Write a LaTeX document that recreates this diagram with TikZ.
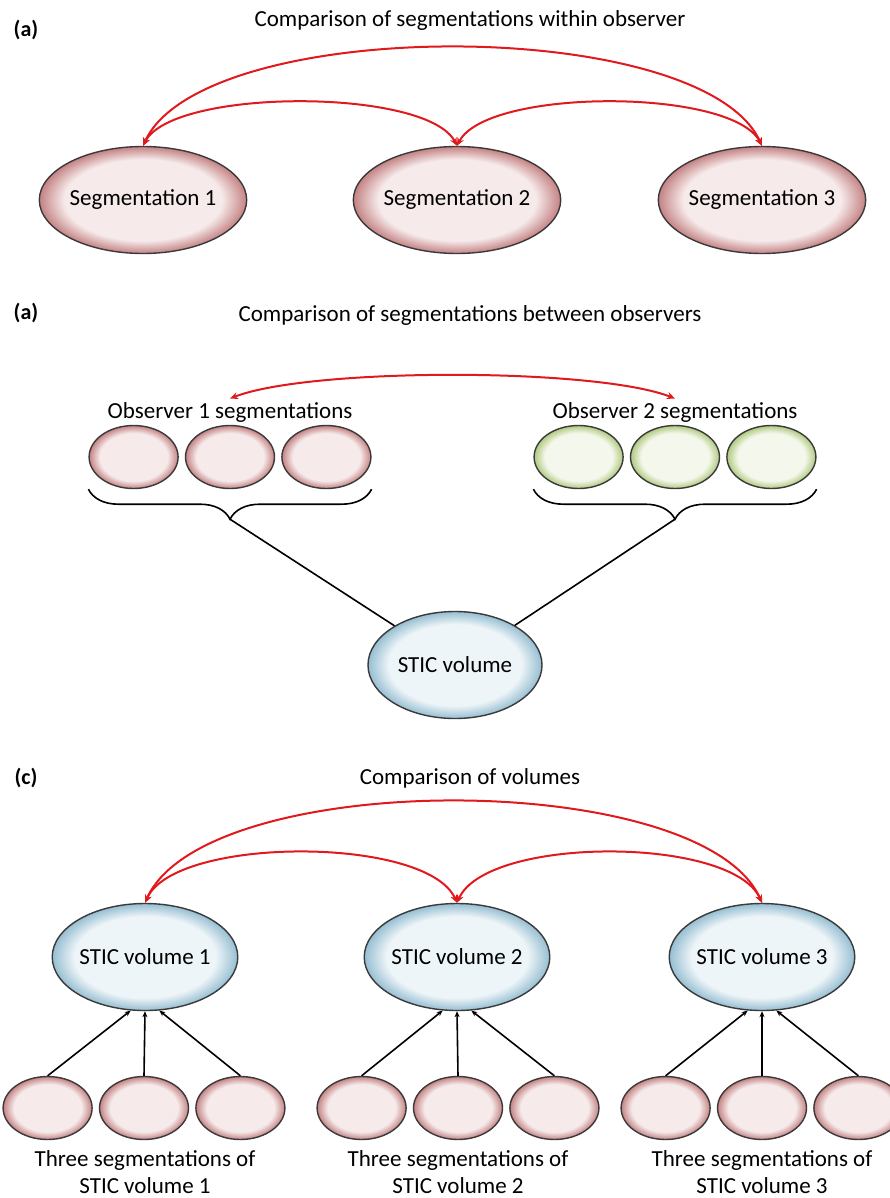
\documentclass[tikz,border=0pt]{standalone}
\usepackage{fontspec}
\setmainfont{Carlito}
\usepackage{tikz}
\usetikzlibrary{
    arrows.meta,
    positioning,
    shapes.geometric,
    decorations.pathreplacing,
    calc
}
\definecolor{pinkin}{HTML}{F6EAEA}
\definecolor{pinkout}{HTML}{C48283}
\definecolor{bluein}{HTML}{EEF5F8}
\definecolor{blueout}{HTML}{96BED2}
\definecolor{greenin}{HTML}{F4F7EB}
\definecolor{greenout}{HTML}{AFC97F}
\definecolor{arcred}{HTML}{E0191C}
\definecolor{rimgray}{HTML}{3A3A3A}
\pgfdeclareradialshading{pinkball}{\pgfpoint{0bp}{0bp}}{color(0bp)=(pinkin); color(19bp)=(pinkin); color(25bp)=(pinkout); color(50bp)=(pinkout)}
\pgfdeclareradialshading{blueball}{\pgfpoint{0bp}{0bp}}{color(0bp)=(bluein); color(19bp)=(bluein); color(25bp)=(blueout); color(50bp)=(blueout)}
\pgfdeclareradialshading{greenball}{\pgfpoint{0bp}{0bp}}{color(0bp)=(greenin); color(19bp)=(greenin); color(25bp)=(greenout); color(50bp)=(greenout)}

\begin{document}
\begin{tikzpicture}[
    x=1pt, y=1pt,
    bigball/.style={
        ellipse,
        draw=rimgray,
        line width=1.4pt,
        minimum width=174pt,
        minimum height=107pt,
        inner sep=0pt,
        font=\fontsize{23}{27}\selectfont
    },
    smallball/.style={
        ellipse,
        draw=rimgray,
        line width=1.4pt,
        minimum width=89pt,
        minimum height=63pt,
        inner sep=0pt
    },
    seg/.style={shading=pinkball},
    vol/.style={shading=blueball},
    obs/.style={shading=greenball},
    heading/.style={font=\fontsize{23}{27}\selectfont},
    paneltag/.style={font=\fontsize{22}{26}\selectfont\bfseries},
    lbl/.style={font=\fontsize{23}{27}\selectfont, align=center},
    cmp/.style={{Stealth[length=8pt,width=7pt]}-{Stealth[length=8pt,width=7pt]}, arcred, line width=2pt},
    feed/.style={-{Stealth[length=6pt,width=5pt]}, line width=1.6pt},
    link/.style={line width=1.6pt},
    brace/.style={decorate, decoration={brace, mirror, amplitude=30pt}, line width=1.6pt}
]
\useasboundingbox (0,0) rectangle (889,-1198);

% Panel (a): within observer
\node[paneltag] (taga) at (26,-30) {(a)};
\node[heading] (titlea) at (470,-20) {Comparison of segmentations within observer};

\node[bigball, seg] (seg1) at (143,-200) {Segmentation 1};
\node[bigball, seg] (seg2) at (457,-200) {Segmentation 2};
\node[bigball, seg] (seg3) at (762,-200) {Segmentation 3};

\draw[cmp] (seg1.north) .. controls +(30,58) and +(-30,58) .. (seg2.north);
\draw[cmp] (seg2.north) .. controls +(30,58) and +(-30,58) .. (seg3.north);
\draw[cmp] (seg1.north) .. controls +(60,131) and +(-60,131) .. (seg3.north);

% Panel (b): between observers
\node[paneltag] (tagb) at (26,-313) {(a)};
\node[heading] (titleb) at (470,-315) {Comparison of segmentations between observers};

\node[lbl] (obs1) at (230,-412) {Observer 1 segmentations};
\node[lbl] (obs2) at (675,-412) {Observer 2 segmentations};

\node[smallball, seg] (o1b) at (230,-457) {};
\node[smallball, seg, left=6pt of o1b] (o1a) {};
\node[smallball, seg, right=6pt of o1b] (o1c) {};

\node[smallball, obs] (o2b) at (675,-457) {};
\node[smallball, obs, left=6pt of o2b] (o2a) {};
\node[smallball, obs, right=6pt of o2b] (o2c) {};

\draw[cmp] (obs1.north) .. controls +(80,31) and +(-80,31) .. (obs2.north);

\draw[brace] (o1a.west |- o1a.south) -- (o1c.east |- o1c.south);
\draw[brace] (o2a.west |- o2a.south) -- (o2c.east |- o2c.south);
\coordinate (tip1) at ($(o1b.south)+(0,-30)$);
\coordinate (tip2) at ($(o2b.south)+(0,-30)$);

\node[bigball, vol] (stic) at (455,-665) {STIC volume};
\draw[link] (tip1) -- (stic);
\draw[link] (tip2) -- (stic);

% Panel (c): volumes
\node[paneltag] (tagc) at (26,-778) {(c)};
\node[heading] (titlec) at (470,-778) {Comparison of volumes};

\node[bigball, vol] (vol1) at (145,-957) {STIC volume 1};
\node[bigball, vol] (vol2) at (457,-957) {STIC volume 2};
\node[bigball, vol] (vol3) at (762,-957) {STIC volume 3};

\draw[cmp] (vol1.north) .. controls +(30,67) and +(-30,67) .. (vol2.north);
\draw[cmp] (vol2.north) .. controls +(30,67) and +(-30,67) .. (vol3.north);
\draw[cmp] (vol1.north) .. controls +(60,135) and +(-60,135) .. (vol3.north);

\node[smallball, seg] (s1b) at (144,-1108) {};
\node[smallball, seg, left=6pt of s1b] (s1a) {};
\node[smallball, seg, right=6pt of s1b] (s1c) {};
\node[smallball, seg] (s2b) at (458,-1108) {};
\node[smallball, seg, left=6pt of s2b] (s2a) {};
\node[smallball, seg, right=6pt of s2b] (s2c) {};
\node[smallball, seg] (s3b) at (762,-1108) {};
\node[smallball, seg, left=6pt of s3b] (s3a) {};
\node[smallball, seg, right=6pt of s3b] (s3c) {};

\draw[feed] (s1a.north) -- (vol1.-105);
\draw[feed] (s1b.north) -- (vol1.south);
\draw[feed] (s1c.north) -- (vol1.-75);
\draw[feed] (s2a.north) -- (vol2.-105);
\draw[feed] (s2b.north) -- (vol2.south);
\draw[feed] (s2c.north) -- (vol2.-75);
\draw[feed] (s3a.north) -- (vol3.-105);
\draw[feed] (s3b.north) -- (vol3.south);
\draw[feed] (s3c.north) -- (vol3.-75);

\node[lbl] (cap1) at (145,-1172) {Three segmentations of\\STIC volume 1};
\node[lbl] (cap2) at (458,-1172) {Three segmentations of\\STIC volume 2};
\node[lbl] (cap3) at (762,-1172) {Three segmentations of\\STIC volume 3};

\end{tikzpicture}
\end{document}
